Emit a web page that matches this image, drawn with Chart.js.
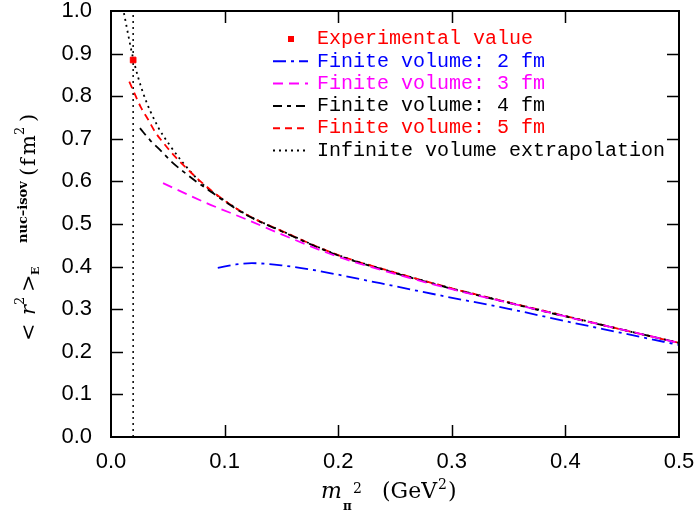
<!DOCTYPE html>
<html>
<head>
<meta charset="utf-8">
<script src="https://cdn.jsdelivr.net/npm/chart.js@4.4.1/dist/chart.umd.min.js"></script>
<style>
  body { margin: 0; background: #fff; }
  #wrap { width: 696px; height: 514px; }
</style>
</head>
<body>
<div id="wrap"><canvas id="chart" width="696" height="514"></canvas></div>
<script>
// values
const expX = [0.0195];
const expY = [0.885];

const x2fm = [0.094, 0.11, 0.124, 0.15, 0.178, 0.237, 0.296, 0.35, 0.4, 0.45, 0.5];
const y2fm = [0.397, 0.405, 0.408, 0.403, 0.392, 0.361, 0.329, 0.301, 0.272, 0.244, 0.216];

const x3fm = [0.0458, 0.0842, 0.12, 0.149, 0.2, 0.25, 0.3, 0.35, 0.4, 0.45, 0.5];
const y3fm = [0.596, 0.549, 0.510, 0.477, 0.423, 0.383, 0.347, 0.315, 0.283, 0.252, 0.221];

const x4fm = [0.0255, 0.0343, 0.0446, 0.0534, 0.0637, 0.0754, 0.09, 0.1, 0.12, 0.15, 0.2, 0.25, 0.3, 0.35, 0.4, 0.45, 0.5];
const y4fm = [0.725, 0.697, 0.670, 0.646, 0.623, 0.599, 0.572, 0.553, 0.520, 0.483, 0.426, 0.385, 0.348, 0.315, 0.283, 0.252, 0.221];

const x5fm = [0.0161, 0.0196, 0.0261, 0.0329, 0.0396, 0.046, 0.0534, 0.0607, 0.068, 0.08, 0.1, 0.12, 0.15, 0.2, 0.25, 0.3, 0.35, 0.4, 0.45, 0.5];
const y5fm = [0.834, 0.813, 0.775, 0.744, 0.713, 0.691, 0.667, 0.646, 0.627, 0.597, 0.555, 0.521, 0.484, 0.427, 0.386, 0.349, 0.316, 0.284, 0.252, 0.221];

const xInf = [0.0114, 0.0194, 0.0282, 0.0414, 0.052, 0.063, 0.08, 0.1, 0.12, 0.15, 0.2, 0.25, 0.3, 0.35, 0.4, 0.45, 0.5];
const yInf = [0.995, 0.89, 0.808, 0.728, 0.684, 0.645, 0.595, 0.555, 0.521, 0.484, 0.427, 0.386, 0.349, 0.316, 0.284, 0.252, 0.221];

const physX = [0.0195, 0.0195];
const physY = [0.0, 1.0];

const xTicks = [0.1, 0.2, 0.3, 0.4];
const yTicks = [0.1, 0.2, 0.3, 0.4, 0.5, 0.6, 0.7, 0.8, 0.9];

const toPts = (xs, ys) => xs.map((x, i) => ({ x: x, y: ys[i] }));

function lineSet(label, xs, ys, color, dash) {
  return {
    label: label,
    legendText: label,
    data: toPts(xs, ys),
    showLine: true,
    borderColor: color,
    backgroundColor: color,
    borderWidth: 1.8,
    borderDash: dash,
    pointRadius: 0,
    cubicInterpolationMode: 'monotone',
    fill: false
  };
}

// legend drawn inside the plot, like the original
const insideLegend = {
  id: 'insideLegend',
  afterDraw(chart) {
    const ctx = chart.ctx;
    ctx.save();
    ctx.font = '20px "Liberation Mono", monospace';
    ctx.textBaseline = 'middle';
    let row = 0;
    chart.data.datasets.forEach(ds => {
      if (!ds.legendText) return;
      const y = 39 + row * 22.3;
      if (ds.showLine) {
        ctx.strokeStyle = ds.borderColor;
        ctx.lineWidth = 2;
        ctx.setLineDash(ds.borderDash || []);
        ctx.beginPath();
        ctx.moveTo(273, y);
        ctx.lineTo(308, y);
        ctx.stroke();
        ctx.setLineDash([]);
      } else {
        ctx.fillStyle = ds.backgroundColor;
        ctx.fillRect(288, y - 3, 6, 6);
      }
      ctx.fillStyle = ds.borderColor;
      ctx.fillText(ds.legendText, 317, y);
      row++;
    });
    ctx.restore();
  }
};

// frame with inward ticks on all four sides, and the axis titles
const frameAndTitles = {
  id: 'frameAndTitles',
  afterDraw(chart) {
    const ctx = chart.ctx;
    const a = chart.chartArea;
    const xs = chart.scales.x, ys = chart.scales.y;
    ctx.save();
    ctx.strokeStyle = '#000';
    ctx.lineWidth = 2;
    ctx.strokeRect(a.left, a.top, a.right - a.left, a.bottom - a.top);
    ctx.lineWidth = 1.5;
    ctx.beginPath();
    xTicks.forEach(v => {
      const px = Math.round(xs.getPixelForValue(v)) + 0.5;
      ctx.moveTo(px, a.bottom); ctx.lineTo(px, a.bottom - 12);
      ctx.moveTo(px, a.top); ctx.lineTo(px, a.top + 12);
    });
    yTicks.forEach(v => {
      const py = Math.round(ys.getPixelForValue(v)) + 0.5;
      ctx.moveTo(a.left, py); ctx.lineTo(a.left + 12, py);
      ctx.moveTo(a.right, py); ctx.lineTo(a.right - 12, py);
    });
    ctx.stroke();

    // x title: m_pi^2 (GeV^2)
    ctx.fillStyle = '#000';
    ctx.textBaseline = 'alphabetic';
    ctx.font = 'italic 22px "DejaVu Serif", serif';
    ctx.fillText('m', 321, 498);
    ctx.font = 'bold 12px "DejaVu Serif", serif';
    ctx.fillText('\u03c0', 343, 510);
    ctx.font = '14px "DejaVu Serif", serif';
    ctx.fillText('2', 353, 493);
    ctx.font = '22px "DejaVu Serif", serif';
    let gx = 382;
    ctx.fillText('(GeV', gx, 498);
    gx += ctx.measureText('(GeV').width + 1;
    ctx.font = '14px "DejaVu Serif", serif';
    ctx.fillText('2', gx, 489);
    gx += ctx.measureText('2').width + 1;
    ctx.font = '22px "DejaVu Serif", serif';
    ctx.fillText(')', gx, 498);

    // y title, rotated: <r^2>_E^{nuc-isov} (fm^2)
    ctx.translate(35, 341);
    ctx.rotate(-Math.PI / 2);
    const put = (txt, u, v, font) => { ctx.font = font; ctx.fillText(txt, u, v); };
    const main = '21px "DejaVu Serif", serif';
    const sup = '13px "DejaVu Serif", serif';
    put('<', 0, 0, main);
    put('r', 26, 0, 'italic ' + main);
    put('2', 36, -11, sup);
    put('>', 49, 0, main);
    put('E', 66, 4, 'bold 11px "DejaVu Serif", serif');
    put('nuc\u2013isov', 98, -8, 'bold 13px "DejaVu Serif", serif');
    put('(', 165, 0, main);
    put('f', 175, 0, main);
    put('m', 186, 0, main);
    put('2', 206, -11, sup);
    put(')', 219, 0, main);
    ctx.restore();
  }
};

const ctx = document.getElementById('chart').getContext('2d');
new Chart(ctx, {
  type: 'scatter',
  data: {
    datasets: [
      {
        label: 'Experimental value',
        legendText: 'Experimental value',
        data: toPts(expX, expY),
        showLine: false,
        pointStyle: 'rect',
        pointRadius: 4,
        borderColor: '#ff0000',
        backgroundColor: '#ff0000'
      },
      lineSet('Finite volume: 2 fm', x2fm, y2fm, '#0000ff', [13, 5, 3, 5]),
      lineSet('Finite volume: 3 fm', x3fm, y3fm, '#ff00ff', [10, 6]),
      lineSet('Finite volume: 4 fm', x4fm, y4fm, '#000000', [9, 5, 4, 5]),
      lineSet('Finite volume: 5 fm', x5fm, y5fm, '#ff0000', [7, 5]),
      lineSet('Infinite volume extrapolation', xInf, yInf, '#000000', [2, 4]),
      {
        label: 'physical point',
        data: toPts(physX, physY),
        showLine: true,
        borderColor: '#000000',
        borderWidth: 1.5,
        borderDash: [2, 4],
        pointRadius: 0
      }
    ]
  },
  options: {
    responsive: false,
    animation: false,
    events: [],
    layout: { padding: { top: 11, right: 17, left: 0, bottom: 0 } },
    plugins: {
      legend: { display: false },
      tooltip: { enabled: false }
    },
    scales: {
      x: {
        type: 'linear',
        min: 0, max: 0.5,
        afterFit: s => { s.height = 77; s.paddingLeft = 0; s.paddingRight = 0; },
        afterBuildTicks: s => { s.ticks = [0, 0.1, 0.2, 0.3, 0.4, 0.5].map(v => ({ value: v })); },
        ticks: {
          callback: v => v.toFixed(1),
          color: '#000',
          font: { family: '"Liberation Sans", Arial, sans-serif', size: 22 },
          padding: 12,
          maxRotation: 0,
          autoSkip: false
        },
        grid: { display: false, drawTicks: false },
        border: { display: false }
      },
      y: {
        type: 'linear',
        min: 0, max: 1,
        afterFit: s => { s.width = 111; s.paddingTop = 0; s.paddingBottom = 0; },
        afterBuildTicks: s => { s.ticks = [0, 0.1, 0.2, 0.3, 0.4, 0.5, 0.6, 0.7, 0.8, 0.9, 1.0].map(v => ({ value: v })); },
        ticks: {
          callback: v => v.toFixed(1),
          color: '#000',
          font: { family: '"Liberation Sans", Arial, sans-serif', size: 22 },
          padding: 19,
          autoSkip: false
        },
        grid: { display: false, drawTicks: false },
        border: { display: false }
      }
    }
  },
  plugins: [insideLegend, frameAndTitles]
});
</script>
</body>
</html>
